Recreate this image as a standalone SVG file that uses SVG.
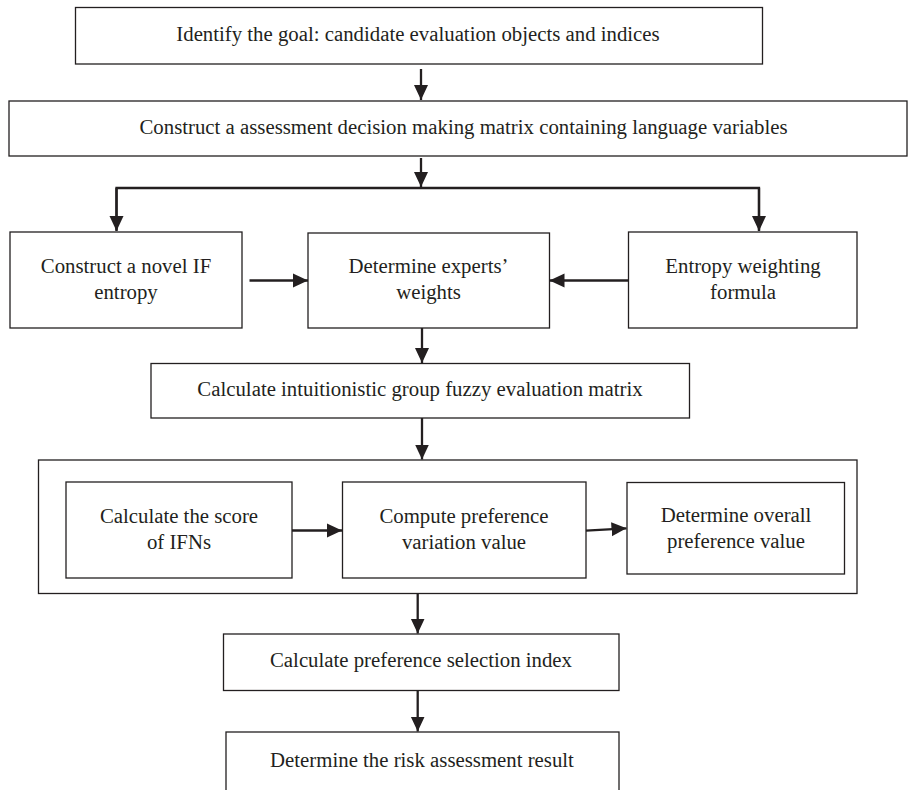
<svg xmlns="http://www.w3.org/2000/svg" width="910" height="790" viewBox="0 0 910 790">
<defs>
<style>
.box{fill:#fff;stroke:#231f20;stroke-width:1.3}
.t{font-family:"Liberation Serif",serif;font-size:20.8px;fill:#231f20;text-anchor:middle}
.c{fill:none;stroke:#231f20;stroke-width:2.3}
</style>
<marker id="ah" markerUnits="userSpaceOnUse" markerWidth="16" markerHeight="16" viewBox="0 0 16 16" refX="15" refY="8" orient="auto">
<path d="M0,1 L15,8 L0,15 Z" fill="#231f20"/>
</marker>
</defs>
<rect width="910" height="790" fill="#fff"/>
<g id="n1"><rect class="box" x="75.5" y="7.5" width="687" height="56.5"/><text class="t" x="418" y="41">Identify the goal: candidate evaluation objects and indices</text></g>
<g id="n2"><rect class="box" x="9" y="101" width="898" height="55"/><text class="t" x="463.5" y="134">Construct a assessment decision making matrix containing language variables</text></g>
<g id="n3"><rect class="box" x="10" y="232" width="232" height="96"/><text class="t" x="126" y="273">Construct a novel IF</text><text class="t" x="126" y="299">entropy</text></g>
<g id="n4"><rect class="box" x="308" y="233" width="241.5" height="95"/><text class="t" x="428.5" y="273">Determine experts’</text><text class="t" x="428.5" y="299">weights</text></g>
<g id="n5"><rect class="box" x="628.5" y="232" width="228.5" height="96"/><text class="t" x="743" y="273">Entropy weighting</text><text class="t" x="743" y="299">formula</text></g>
<g id="n6"><rect class="box" x="151" y="363.5" width="538.5" height="54.5"/><text class="t" x="420" y="396">Calculate intuitionistic group fuzzy evaluation matrix</text></g>
<g id="n7"><rect class="box" x="38.5" y="460" width="818.5" height="133.5"/></g>
<g id="n8"><rect class="box" x="66" y="482" width="226" height="96"/><text class="t" x="179" y="523">Calculate the score</text><text class="t" x="179" y="549">of IFNs</text></g>
<g id="n9"><rect class="box" x="342.5" y="482" width="243.5" height="96"/><text class="t" x="464" y="523">Compute preference</text><text class="t" x="464" y="549">variation value</text></g>
<g id="n10"><rect class="box" x="627" y="482.5" width="217.5" height="91.5"/><text class="t" x="736" y="522">Determine overall</text><text class="t" x="736" y="548">preference value</text></g>
<g id="n11"><rect class="box" x="223.5" y="634" width="395.5" height="56.5"/><text class="t" x="421" y="667">Calculate preference selection index</text></g>
<g id="n12"><rect class="box" x="226" y="732" width="393" height="70"/><text class="t" x="422" y="767">Determine the risk assessment result</text></g>
<g id="connectors">
<line class="c" x1="421" y1="69" x2="421" y2="100" marker-end="url(#ah)"/>
<line class="c" x1="421" y1="158" x2="421" y2="187" marker-end="url(#ah)"/>
<polyline class="c" points="116.5,230.5 116.5,188 759,188 759,230.5"/>
<line class="c" x1="116.5" y1="188" x2="116.5" y2="231" marker-end="url(#ah)"/>
<line class="c" x1="759" y1="188" x2="759" y2="231" marker-end="url(#ah)"/>
<line class="c" x1="249.5" y1="280.5" x2="308" y2="280.5" marker-end="url(#ah)"/>
<line class="c" x1="628.5" y1="280.5" x2="549.5" y2="280.5" marker-end="url(#ah)"/>
<line class="c" x1="422" y1="328" x2="422" y2="363" marker-end="url(#ah)"/>
<line class="c" x1="422" y1="418" x2="422" y2="459.5" marker-end="url(#ah)"/>
<line class="c" x1="292" y1="530.5" x2="342" y2="530.5" marker-end="url(#ah)"/>
<line class="c" x1="586" y1="530.7" x2="626.5" y2="528.3" marker-end="url(#ah)"/>
<line class="c" x1="417.7" y1="593.5" x2="417.7" y2="633.5" marker-end="url(#ah)"/>
<line class="c" x1="417.7" y1="690.5" x2="417.7" y2="731.5" marker-end="url(#ah)"/>
</g>
</svg>
